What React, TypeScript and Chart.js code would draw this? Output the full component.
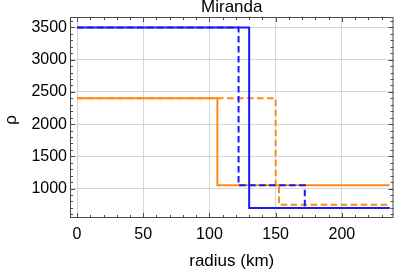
import { useEffect, useRef } from "react";
import { Chart, registerables } from "chart.js";
Chart.register(...registerables);

const chartTitle = "Miranda";
const xLabel = "radius (km)";
const yLabel = "ρ";
const xTicks = [0, 50, 100, 150, 200];
const yTicks = [1000, 1500, 2000, 2500, 3000, 3500];
const xMinorStep = 10;
const yMinorStep = 100;
const xMajorStep = 50;
const yMajorStep = 500;

const blueSolidR = [0, 130, 236];
const blueSolidRho = [3500, 700, 700];
const blueDashedR = [0, 122, 172, 236];
const blueDashedRho = [3500, 1050, 700, 700];
const orangeSolidR = [0, 106, 236];
const orangeSolidRho = [2400, 1050, 1050];
const orangeDashedR = [0, 150, 152.5, 236];
const orangeDashedRho = [2400, 1050, 750, 750];

const BLUE = "rgb(25,25,255)";
const ORANGE = "rgb(255,138,22)";
const FONT = "'Liberation Sans', Arial, Helvetica, sans-serif";
const FRAME = "#4a4a4a";

const toPts = (xs: number[], ys: number[]) => xs.map((x, i) => ({ x, y: ys[i] }));

const framePlugin = {
  id: "frameTicks",
  afterDraw(chart: any) {
    const { ctx, chartArea } = chart;
    const xs = chart.scales.x;
    const ys = chart.scales.y;
    ctx.save();
    ctx.strokeStyle = FRAME;
    ctx.lineWidth = 1;
    ctx.strokeRect(chartArea.left + 0.5, chartArea.top + 0.5, chartArea.right - chartArea.left - 1, chartArea.bottom - chartArea.top - 1);
    ctx.beginPath();
    const xStart = Math.ceil(xs.min / xMinorStep) * xMinorStep;
    for (let v = xStart; v <= xs.max; v += xMinorStep) {
      const p = Math.round(xs.getPixelForValue(v)) + 0.5;
      const len = v % xMajorStep === 0 ? 5 : 3;
      ctx.moveTo(p, chartArea.bottom);
      ctx.lineTo(p, chartArea.bottom - len);
      ctx.moveTo(p, chartArea.top);
      ctx.lineTo(p, chartArea.top + len);
    }
    const yStart = Math.ceil(ys.min / yMinorStep) * yMinorStep;
    for (let v = yStart; v <= ys.max; v += yMinorStep) {
      const p = Math.round(ys.getPixelForValue(v)) + 0.5;
      const len = v % yMajorStep === 0 ? 5 : 3;
      ctx.moveTo(chartArea.left, p);
      ctx.lineTo(chartArea.left + len, p);
      ctx.moveTo(chartArea.right, p);
      ctx.lineTo(chartArea.right - len, p);
    }
    ctx.stroke();
    ctx.restore();
  },
};

export default function App() {
  const ref = useRef<HTMLCanvasElement | null>(null);
  useEffect(() => {
    if (!ref.current) return;
    const common = { pointRadius: 0, borderWidth: 2, stepped: "before" as const, fill: false, borderJoinStyle: "miter" as const };
    const chart = new Chart(ref.current, {
      type: "line",
      data: {
        datasets: [
          { ...common, data: toPts(blueDashedR, blueDashedRho), borderColor: BLUE, borderDash: [6.5, 3.5] },
          { ...common, data: toPts(blueSolidR, blueSolidRho), borderColor: BLUE },
          { ...common, data: toPts(orangeDashedR, orangeDashedRho), borderColor: ORANGE, borderDash: [6.5, 3.5] },
          { ...common, data: toPts(orangeSolidR, orangeSolidRho), borderColor: ORANGE },
        ],
      },
      options: {
        animation: false,
        responsive: false,
        layout: { padding: { left: 0, right: 2.5, top: 0, bottom: 0 } },
        plugins: {
          legend: { display: false },
          tooltip: { enabled: false },
          title: {
            display: true,
            text: chartTitle,
            fullSize: false,
            color: "#000",
            font: { family: FONT, size: 17, weight: "normal", lineHeight: 1 },
            padding: { top: -1, bottom: 1 },
          },
        },
        scales: {
          x: {
            type: "linear",
            min: -5.3,
            max: 239,
            afterBuildTicks: (s: any) => {
              s.ticks = xTicks.map((v) => ({ value: v }));
            },
            afterFit: (s: any) => {
              s.height = 55;
            },
            ticks: {
              color: "#000",
              font: { family: FONT, size: 16 },
              padding: 7,
              maxRotation: 0,
              autoSkip: false,
              callback: (v: any) => String(v),
            },
            grid: { color: "#d6d6d6", lineWidth: 1, drawTicks: false },
            border: { display: false },
            title: {
              display: true,
              text: xLabel,
              color: "#000",
              font: { family: FONT, size: 17 },
              padding: { top: 0, bottom: 1 },
            },
          },
          y: {
            type: "linear",
            min: 543,
            max: 3662,
            afterBuildTicks: (s: any) => {
              s.ticks = yTicks.map((v) => ({ value: v }));
            },
            afterFit: (s: any) => {
              s.width = 70;
            },
            ticks: {
              color: "#000",
              font: { family: FONT, size: 16 },
              padding: 3,
              autoSkip: false,
              callback: (v: any) => String(v),
            },
            grid: { color: "#d6d6d6", lineWidth: 1, drawTicks: false },
            border: { display: false },
            title: {
              display: true,
              text: yLabel + " ",
              color: "#000",
              font: { family: FONT, size: 17 },
              padding: { top: 1, bottom: 0 },
            },
          },
        },
      },
      plugins: [framePlugin],
    });
    return () => chart.destroy();
  }, []);
  return (
    <div style={{ position: "fixed", left: 0, top: 0, width: 396, height: 273, background: "#fff" }}>
      <canvas ref={ref} width={396} height={273} style={{ display: "block" }} />
    </div>
  );
}
